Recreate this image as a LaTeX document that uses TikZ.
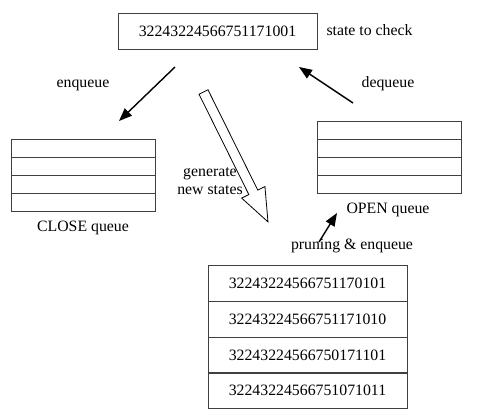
\documentclass[tikz,border=0pt]{standalone}
\usepackage{fontspec}
\setmainfont{Liberation Serif}
\usetikzlibrary{arrows.meta}
\begin{document}
\begin{tikzpicture}[x=1pt,y=-1pt,
  every node/.style={font=\fontsize{15.8pt}{18pt}\selectfont, inner sep=0pt},
  box/.style={draw=black!75, line width=1pt, minimum width=199pt, minimum height=36pt},
  queue/.style={draw=black!75, line width=1pt, minimum width=144pt, minimum height=72pt},
  arr/.style={line width=1.4pt, -{Triangle[length=13pt,width=10pt]}},
  cell/.style={line width=1pt, draw=black!75}
]
\useasboundingbox (0,0) rectangle (480,418);
\fill[white] (0,0) rectangle (480,418);

% top state
\node[box] (top) at (217.5,31) {32243224566751171001};
\node (check) at (369.5,30) {state to check};

% CLOSE queue
\node[queue] (close) at (83,175.5) {};
\foreach \y in {157,175,193} \draw[cell] (11,\y) -- (155,\y);
\node (closel) at (83,228) {CLOSE queue};

% OPEN queue
\node[queue] (open) at (389,157) {};
\foreach \y in {139,157,175} \draw[cell] (317,\y) -- (461,\y);
\node (openl) at (388,210) {OPEN queue};

% bottom list
\node[box] (s1) at (307.5,283) {32243224566751170101};
\node[box] (s2) at (307.5,319) {32243224566751171010};
\node[box] (s3) at (307.5,355) {32243224566750171101};
\node[box] (s4) at (307.5,390.5) {32243224566751071011};

% labels
\node (enq) at (83,85) {enqueue};
\node (deq) at (388,84) {dequeue};
\node (prune) at (352,246) {pruning \& enqueue};
\node[align=center] (gen) at (210,181) {generate\\new states};

% arrows
\coordinate (e1) at (175,67);
\coordinate (e2) at (119,121);
\draw[arr] (e1) -- (e2);
\coordinate (d1) at (353,103);
\coordinate (d2) at (299,67);
\draw[arr] (d1) -- (d2);
\coordinate (p1) at (319,242);
\coordinate (p2) at (337,213);
\draw[arr] (p1) -- (p2);

% hollow arrow
\begin{scope}[shift={(203.5,92)}, rotate=-63.6]
\draw[line width=0.8pt, fill=white]
  (0,-5) -- (112,-5) -- (112,-13) -- (145,0) -- (112,13) -- (112,5) -- (0,5) -- cycle;
\end{scope}
\end{tikzpicture}
\end{document}
